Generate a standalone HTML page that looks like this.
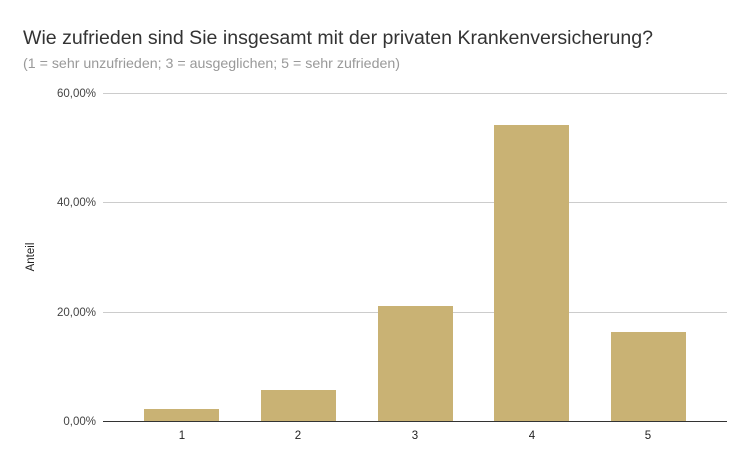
<!DOCTYPE html>
<html><head><meta charset="utf-8"><style>body{margin:0;background:#fff}</style></head><body>
<svg width="751" height="465" xmlns="http://www.w3.org/2000/svg" font-family="Liberation Sans, Arial, sans-serif">
<rect width="751" height="465" fill="#fff"/>
<text x="23" y="44" font-size="19.6" fill="#333" textLength="630" lengthAdjust="spacingAndGlyphs">Wie zufrieden sind Sie insgesamt mit der privaten Krankenversicherung?</text>
<text x="23" y="68" font-size="14" fill="#999" textLength="377" lengthAdjust="spacingAndGlyphs">(1 = sehr unzufrieden; 3 = ausgeglichen; 5 = sehr zufrieden)</text>
<g stroke="#cccccc" stroke-width="1">
<line x1="103" y1="93.5" x2="727" y2="93.5"/>
<line x1="103" y1="202.5" x2="727" y2="202.5"/>
<line x1="103" y1="312.5" x2="727" y2="312.5"/>
</g>
<g fill="#c9b274">
<rect x="144" y="409" width="75" height="12"/>
<rect x="261" y="390" width="75" height="31"/>
<rect x="378" y="306" width="75" height="115"/>
<rect x="494" y="125" width="75" height="296"/>
<rect x="611" y="332" width="75" height="89"/>
</g>
<line x1="103" y1="421.5" x2="727" y2="421.5" stroke="#333" stroke-width="1"/>
<g font-size="11.5" fill="#444" text-anchor="end">
<text x="96" y="97">60,00%</text>
<text x="96" y="206">40,00%</text>
<text x="96" y="316">20,00%</text>
<text x="96" y="425">0,00%</text>
</g>
<g font-size="11.5" fill="#222" text-anchor="middle">
<text x="182" y="439">1</text>
<text x="298" y="439">2</text>
<text x="415" y="439">3</text>
<text x="532" y="439">4</text>
<text x="648" y="439">5</text>
</g>
<text transform="translate(34,257) rotate(-90)" font-size="11.5" fill="#222" text-anchor="middle">Anteil</text>
</svg>
</body></html>
